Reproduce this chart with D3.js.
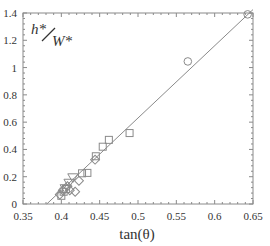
<!DOCTYPE html>
<html lang="en">
<head>
<meta charset="utf-8">
<script src="https://cdn.jsdelivr.net/npm/d3@7"></script>
<style>
  body { margin: 0; background: #fff; }
  text { font-family: "Liberation Serif", "Times New Roman", "DejaVu Serif", serif; fill: #333; }
</style>
</head>
<body>
<script>
// data
var squares = [[0.400, 0.06], [0.403, 0.09], [0.406, 0.11], [0.427, 0.225], [0.434, 0.228],
               [0.445, 0.35], [0.454, 0.42], [0.462, 0.47], [0.489, 0.52]];
var diamonds = [[0.398, 0.07], [0.402, 0.10], [0.408, 0.13], [0.411, 0.10], [0.418, 0.09],
                [0.423, 0.17], [0.444, 0.325]];
var triangles = [[0.405, 0.12], [0.410, 0.16], [0.415, 0.20]];
var circles = [[0.565, 1.045], [0.643, 1.39]];
var fitLine = [[0.381, 0], [0.65, 1.425]];
var xTicks = [0.35, 0.4, 0.45, 0.5, 0.55, 0.6, 0.65];
var yTicks = [0, 0.2, 0.4, 0.6, 0.8, 1, 1.2, 1.4];

var w = 270, h = 246;
var m = {left: 23, right: 17, top: 13, bottom: 42};

var svg = d3.select("body").append("svg")
    .attr("width", w).attr("height", h);

var x = d3.scaleLinear().domain([0.35, 0.65]).range([m.left, w - m.right]);
var y = d3.scaleLinear().domain([0, 1.4]).range([h - m.bottom, m.top]);

var grey = "#8a8a8a";

// frame
svg.append("rect")
    .attr("x", x(0.35)).attr("y", y(1.4))
    .attr("width", x(0.65) - x(0.35)).attr("height", y(0) - y(1.4))
    .attr("fill", "none").attr("stroke", grey).attr("stroke-width", 1);

// inward ticks on all four sides
var xMinor = d3.range(0.35, 0.6501, 0.01);
var yMinor = d3.range(0, 1.4001, 0.04);
function isMajor(v, step) { return Math.abs(v / step - Math.round(v / step)) < 1e-6; }

var tk = svg.append("g").attr("stroke", grey).attr("stroke-width", 1);
xMinor.forEach(function (v) {
  var len = isMajor(v, 0.05) ? 4 : 2;
  tk.append("line").attr("x1", x(v)).attr("x2", x(v)).attr("y1", y(0)).attr("y2", y(0) - len);
  tk.append("line").attr("x1", x(v)).attr("x2", x(v)).attr("y1", y(1.4)).attr("y2", y(1.4) + len);
});
yMinor.forEach(function (v) {
  var len = isMajor(v, 0.2) ? 4 : 2;
  tk.append("line").attr("y1", y(v)).attr("y2", y(v)).attr("x1", x(0.35)).attr("x2", x(0.35) + len);
  tk.append("line").attr("y1", y(v)).attr("y2", y(v)).attr("x1", x(0.65)).attr("x2", x(0.65) - len);
});

// tick labels
svg.append("g").selectAll("text").data(xTicks).enter().append("text")
    .attr("x", function (d) { return x(d); })
    .attr("y", y(0) + 16)
    .attr("text-anchor", "middle")
    .attr("font-size", 11)
    .text(function (d) { return d; });

svg.append("g").selectAll("text").data(yTicks).enter().append("text")
    .attr("x", x(0.35) - 6)
    .attr("y", function (d) { return y(d) + 4; })
    .attr("text-anchor", "end")
    .attr("font-size", 11)
    .text(function (d) { return d; });

// axis title
svg.append("text")
    .attr("x", 137).attr("y", h - 7)
    .attr("text-anchor", "middle").attr("font-size", 15)
    .text("tan(θ)");

// y label inside plot
var lab = svg.append("g").attr("font-style", "italic").attr("font-size", 15);
lab.append("text").attr("x", 31).attr("y", 34).text("h*");
lab.append("line").attr("x1", 42).attr("y1", 41).attr("x2", 55).attr("y2", 28)
    .attr("stroke", "#333").attr("stroke-width", 1.2);
lab.append("text").attr("x", 52).attr("y", 46).text("W*");

// fit line
svg.append("path")
    .attr("d", d3.line().x(function (d) { return x(d[0]); }).y(function (d) { return y(d[1]); })(fitLine))
    .attr("fill", "none").attr("stroke", grey).attr("stroke-width", 1);

// markers
var pts = svg.append("g").attr("fill", "none").attr("stroke", grey).attr("stroke-width", 1);
pts.selectAll(".sq").data(squares).enter().append("rect")
    .attr("x", function (d) { return x(d[0]) - 3.5; })
    .attr("y", function (d) { return y(d[1]) - 3.5; })
    .attr("width", 7).attr("height", 7);
pts.selectAll(".dm").data(diamonds).enter().append("path")
    .attr("d", d3.symbol().type(d3.symbolSquare).size(40))
    .attr("transform", function (d) { return "translate(" + x(d[0]) + "," + y(d[1]) + ") rotate(45)"; });
pts.selectAll(".tr").data(triangles).enter().append("path")
    .attr("d", d3.symbol().type(d3.symbolTriangle).size(44))
    .attr("transform", function (d) { return "translate(" + x(d[0]) + "," + y(d[1]) + ") rotate(180)"; });
pts.selectAll(".ci").data(circles).enter().append("circle")
    .attr("cx", function (d) { return x(d[0]); })
    .attr("cy", function (d) { return y(d[1]); })
    .attr("r", 3.8);
</script>
</body>
</html>
